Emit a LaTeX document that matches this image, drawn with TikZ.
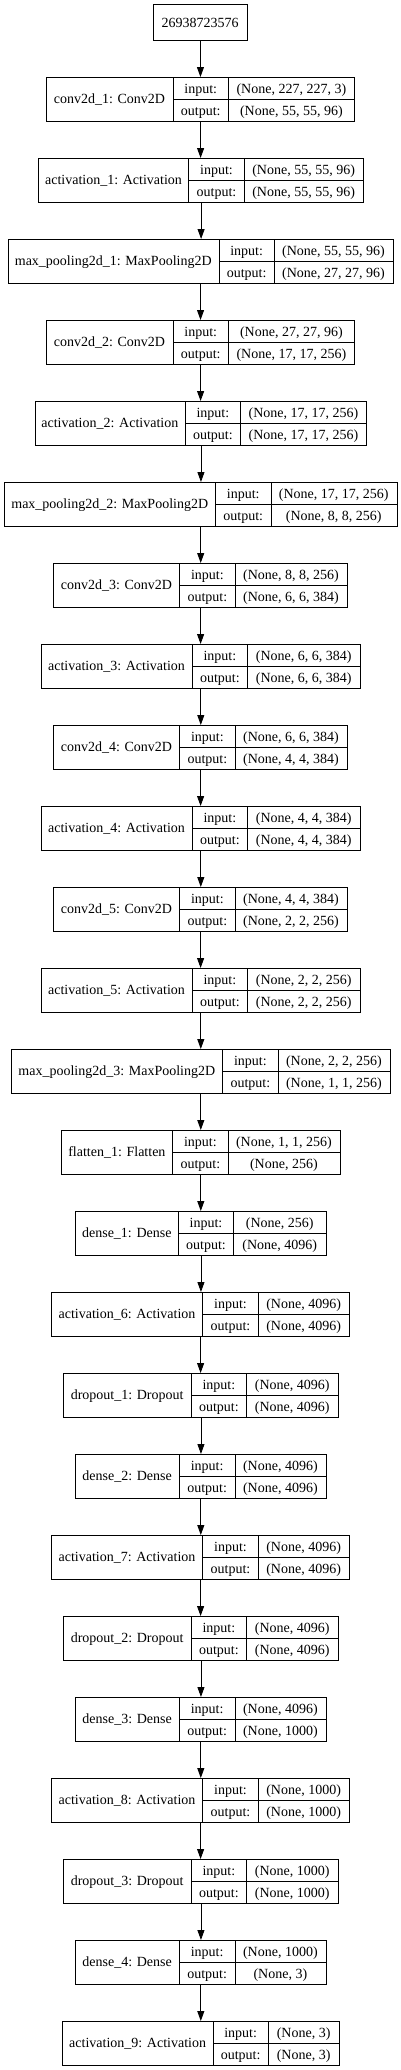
\documentclass[tikz,border=0pt]{standalone}
\usepackage{fontspec}
\setmainfont{Liberation Serif}
\usetikzlibrary{arrows.meta}

\begin{document}
\begin{tikzpicture}[
	x=1pt, y=-1pt,
	font=\fontsize{14}{16}\selectfont,
	layer/.style = {draw, line width=0.9pt, inner sep=0pt, minimum height=44pt, anchor=north west},
	cell/.style = {line width=0.9pt},
	lbl/.style = {anchor=base, inner sep=0pt},
	flow/.style = {draw, line width=0.9pt, -{Triangle[length=10pt,width=7pt]}},
	]
	\useasboundingbox (0,0) rectangle (401,2070);
	% input id
	\node[layer, minimum width=94pt, minimum height=36pt] (top) at (153,4) {};
	\node[lbl] (top-n) at (200,27.5) {26938723576};
	% layers: index/left/split1/split2/right/name/input/output
	\foreach \i/\xa/\xb/\xc/\xd/\name/\lin/\lout in {
		0/46/173/228.5/354.3/conv2d\_1: Conv2D/{(None, 227, 227, 3)}/{(None, 55, 55, 96)},
		1/38.3/188.7/244.3/363/activation\_1: Activation/{(None, 55, 55, 96)}/{(None, 55, 55, 96)},
		2/7.5/219/274.3/392.7/max\_pooling2d\_1: MaxPooling2D/{(None, 55, 55, 96)}/{(None, 27, 27, 96)},
		3/46/173/228.5/354.3/conv2d\_2: Conv2D/{(None, 27, 27, 96)}/{(None, 17, 17, 256)},
		4/34.7/185/240.7/366.3/activation\_2: Activation/{(None, 17, 17, 256)}/{(None, 17, 17, 256)},
		5/4/215.5/271/396.5/max\_pooling2d\_2: MaxPooling2D/{(None, 17, 17, 256)}/{(None, 8, 8, 256)},
		6/53.3/179.7/235/347/conv2d\_3: Conv2D/{(None, 8, 8, 256)}/{(None, 6, 6, 384)},
		7/41/192/247.7/359.7/activation\_3: Activation/{(None, 6, 6, 384)}/{(None, 6, 6, 384)},
		8/53.3/179.7/235/347/conv2d\_4: Conv2D/{(None, 6, 6, 384)}/{(None, 4, 4, 384)},
		9/41/192/247.7/359.7/activation\_4: Activation/{(None, 4, 4, 384)}/{(None, 4, 4, 384)},
		10/53.3/179.7/235/347/conv2d\_5: Conv2D/{(None, 4, 4, 384)}/{(None, 2, 2, 256)},
		11/41/192/247.7/359.7/activation\_5: Activation/{(None, 2, 2, 256)}/{(None, 2, 2, 256)},
		12/11/222.7/278/389.7/max\_pooling2d\_3: MaxPooling2D/{(None, 2, 2, 256)}/{(None, 1, 1, 256)},
		13/61/172.7/228/339.7/flatten\_1: Flatten/{(None, 1, 1, 256)}/{(None, 256)},
		14/75.3/178.3/233.7/325.7/dense\_1: Dense/{(None, 256)}/{(None, 4096)},
		15/51.3/202.7/258.3/349/activation\_6: Activation/{(None, 4096)}/{(None, 4096)},
		16/63.3/191/246.7/337.7/dropout\_1: Dropout/{(None, 4096)}/{(None, 4096)},
		17/75/179.3/235/325.7/dense\_2: Dense/{(None, 4096)}/{(None, 4096)},
		18/51.3/202.7/258.3/349/activation\_7: Activation/{(None, 4096)}/{(None, 4096)},
		19/63.3/191/246.7/337.7/dropout\_2: Dropout/{(None, 4096)}/{(None, 4096)},
		20/75/179.3/235/325.7/dense\_3: Dense/{(None, 4096)}/{(None, 1000)},
		21/51.3/202.7/258.3/349/activation\_8: Activation/{(None, 1000)}/{(None, 1000)},
		22/63.3/191/246.7/337.7/dropout\_3: Dropout/{(None, 1000)}/{(None, 1000)},
		23/75/179.3/235/325.7/dense\_4: Dense/{(None, 1000)}/{(None, 3)},
		24/62.3/213/268.3/339/activation\_9: Activation/{(None, 3)}/{(None, 3)}}
	{
		\pgfmathsetmacro\yt{77+81*\i}
		\pgfmathsetmacro\bw{\xd-\xa}
		\node[layer, minimum width=\bw pt] (L\i) at (\xa,\yt) {};
		\draw[cell] (\xb,\yt) -- ++(0,44);
		\draw[cell] (\xc,\yt) -- ++(0,44);
		\draw[cell] (\xb,{\yt+22}) -- (\xd,{\yt+22});
		\node[lbl] (L\i-n) at ({(\xa+\xb)/2},{\yt+26.5}) {\name};
		\node[lbl] (L\i-a) at ({(\xb+\xc)/2},{\yt+16.5}) {input:};
		\node[lbl] (L\i-b) at ({(\xb+\xc)/2},{\yt+38}) {output:};
		\node[lbl] (L\i-c) at ({(\xc+\xd)/2},{\yt+16.5}) {\lin};
		\node[lbl] (L\i-d) at ({(\xc+\xd)/2},{\yt+38}) {\lout};
	}
	% connectors
	\draw[flow] (top.south) -- (top.south |- L0.north);
	\foreach \i [count=\p from 0] in {1,...,24}
		\draw[flow] (L\p.south) -- (L\p.south |- L\i.north);
\end{tikzpicture}
\end{document}
